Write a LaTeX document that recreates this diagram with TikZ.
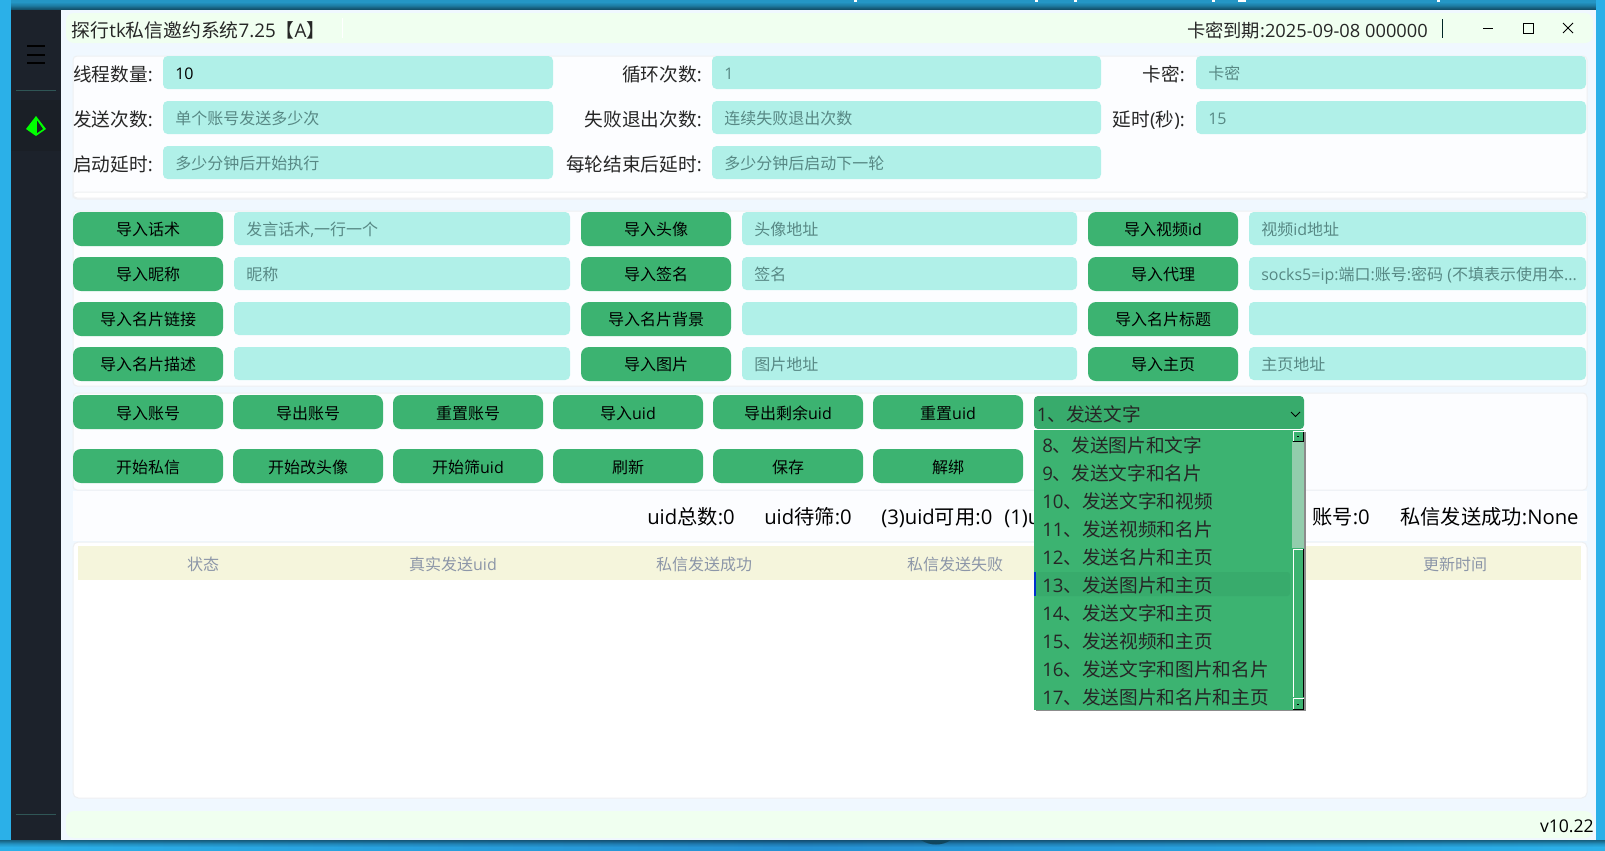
\documentclass[tikz,border=0pt]{standalone}
\usepackage{fontspec}
\usetikzlibrary{patterns}
\setmainfont{Open Sans}
\newfontfamily\cjkf{Noto Sans CJK SC}
\newXeTeXintercharclass\cjkclass
\newcount\chloop
\chloop="3000 \loop\ifnum\chloop<"3040 \XeTeXcharclass\chloop=\cjkclass \advance\chloop 1 \repeat
\chloop="4E00 \loop\ifnum\chloop<"A000 \XeTeXcharclass\chloop=\cjkclass \advance\chloop 1 \repeat
\XeTeXinterchartokenstate=1
\XeTeXinterchartoks 0 \cjkclass={\begingroup\cjkf}
\XeTeXinterchartoks 4095 \cjkclass={\begingroup\cjkf}
\XeTeXinterchartoks \cjkclass 0={\endgroup}
\XeTeXinterchartoks \cjkclass 4095={\endgroup}
\definecolor{btnc}{HTML}{3CB371}
\definecolor{btnd}{HTML}{38AB6C}
\definecolor{fieldc}{HTML}{B0F0E8}
\definecolor{phc}{HTML}{578884}
\definecolor{sidec}{HTML}{1C222B}
\definecolor{activec}{HTML}{1A1F26}
\definecolor{panelc}{HTML}{FCFDFF}
\definecolor{linec}{HTML}{EEF0F2}
\definecolor{basec}{HTML}{F0F8FF}
\definecolor{barc}{HTML}{F0FFF0}
\definecolor{deskc}{HTML}{2BB0E8}
\definecolor{deskm}{HTML}{2590D2}
\definecolor{hdrc}{HTML}{F5F5DC}
\definecolor{hdrt}{HTML}{8C96A8}
\definecolor{divc}{HTML}{2F5656}
\tikzset{
  x=0.75pt,y=-0.75pt,
  small/.style={font=\fontsize{12}{14}\selectfont,inner sep=0pt,text height=10.5pt,text depth=1.5pt},
  large/.style={font=\fontsize{14}{16}\selectfont,inner sep=0pt,text height=12.3pt,text depth=1.7pt},
  btnbox/.style={fill=btnc,rounded corners=6pt},
  fieldbox/.style={fill=fieldc,rounded corners=3.5pt},
  panelbox/.style={fill=panelc,draw=linec,line width=.75pt,rounded corners=3pt},
  btntext/.style={small,text=black},
  phtext/.style={small,text=phc,anchor=west,yshift=-.75pt},
  labtext/.style={large,text=black!85,anchor=east,yshift=-.75pt},
  stattext/.style={font=\fontsize{15.2}{17}\selectfont,inner sep=0pt,text height=13.2pt,text depth=1.8pt,text=black,anchor=west},
  itemtext/.style={large,text=black!85,anchor=west},
  hdrtext/.style={small,text=hdrt},
}
\def\tshift{0}
% button: name x1 x2 y1 y2 text
\newcommand{\btn}[6]{%
  \path[btnbox] (#2,#4) rectangle (#3,#5);
  \pgfmathsetmacro\cx{(#2+#3)/2}\pgfmathsetmacro\cy{(#4+#5)/2+\tshift}
  \node[btntext] (#1) at (\cx,\cy) {#6};}
% field: name x1 x2 y1 y2 text
\newcommand{\fld}[6]{%
  \path[fieldbox] (#2,#4) rectangle (#3,#5);
  \pgfmathsetmacro\cy{(#4+#5)/2}
  \node[phtext] (#1) at (#2+12,\cy) {#6};}
\begin{document}
\begin{tikzpicture}
\useasboundingbox (0,0) rectangle (1605,850);
% desktop
\fill[deskc] (0,0) rectangle (1605,850);
\shade[left color=deskc,right color=deskm] (0,840) rectangle (800,850);
\shade[left color=deskm,right color=deskc] (800,840) rectangle (1605,850);
\foreach \s/\o in {0/.45,1/.38,2/.3,3/.22,4/.15,5/.1,6/.05}
  \fill[black,opacity=\o] (0,840+\s) rectangle (1605,841+\s);
\fill[deskc!85!black] (11,0) rectangle (1596,10);
\foreach \s/\o in {9/.45,8/.38,7/.3,6/.22,5/.15,4/.1,3/.05}
  \fill[black,opacity=\o] (11,\s) rectangle (1596,\s+1);
\fill[deskc!40!black] (921,840) .. controls (930,846) and (942,846) .. (951,840) -- cycle;
\foreach \bx/\bw in {854/3,1035/3,1074/3,1212/3,1238/8,1437/3}
  \fill[white] (\bx,0) rectangle (\bx+\bw,2);
% window
\fill[basec] (11,10) rectangle (1596,840);
% title bar and status bar
\path[fill=barc,rounded corners=6pt] (66,13) rectangle (1593,43);
\path[fill=barc,rounded corners=6pt] (66,811) rectangle (1593,838);
\draw[white,line width=.5pt] (342,18) -- (342,38);
% sidebar
\fill[sidec] (11,10) rectangle (61,840);
\fill[activec] (11,100) rectangle (61,151);
\foreach \ly in {46,55,63} \draw[black,line width=1.2pt] (27,\ly) -- (45,\ly);
\draw[divc,line width=.7pt] (16,90) -- (56,90);
\draw[divc,line width=.7pt] (16,814) -- (56,814);
\path[fill=green] (36,116) -- (46,129) -- (36,136) -- (26,129) -- cycle;
\path[fill=activec] (37,120.5) -- (43,129) -- (37,133) -- cycle;
% title texts
\node[large,anchor=west,text=black!85,font=\fontsize{14.1}{16}\selectfont] (title) at (71.5,30) {探行tk私信邀约系统7.25【A】};
\node[large,anchor=east,text=black!85,font=\fontsize{13.7}{16}\selectfont] (expiry) at (1428,30) {卡密到期:2025-09-08 000000};
\draw[black!70!teal,line width=.6pt] (1442,19) -- (1442,38);
\draw[black,line width=.7pt] (1483,28) -- (1493,28);
\draw[black,line width=.7pt] (1523,23) rectangle (1533,33);
\draw[black,line width=.7pt] (1563,23) -- (1573,33) (1573,23) -- (1563,33);
\node[inner sep=0pt,anchor=east,font=\fontsize{13.2}{16}\selectfont,text=black] (ver) at (1594,826) {v10.22};
% panels
\path[panelbox] (73,56) rectangle (1587,199);
\draw[linec,line width=.75pt,rounded corners=3pt,fill=white] (73,192) rectangle (1587,198);
\path[panelbox] (73,211) rectangle (1587,386);
\path[panelbox] (73,393) rectangle (1587,490);
\path[fill=panelc] (73,491) rectangle (1587,541);
\path[fill=white,draw=linec,line width=.75pt,rounded corners=4pt] (73,542) rectangle (1587,798);
% row 1 labels and fields
\node[labtext] (l11) at (153,73) {线程数量:};
\node[labtext] (l12) at (702,73) {循环次数:};
\node[labtext] (l13) at (1185,73) {卡密:};
\node[labtext] (l21) at (153,118) {发送次数:};
\node[labtext] (l22) at (702,118) {失败退出次数:};
\node[labtext] (l23) at (1185,118) {延时(秒):};
\node[labtext] (l31) at (153,163) {启动延时:};
\node[labtext] (l32) at (702,163) {每轮结束后延时:};
\fld{f11}{163}{553}{56}{89}{\textcolor{black}{10}}
\fld{f12}{712}{1101}{56}{89}{1}
\fld{f13}{1196}{1586}{56}{89}{卡密}
\fld{f21}{163}{553}{101}{134}{单个账号发送多少次}
\fld{f22}{712}{1101}{101}{134}{连续失败退出次数}
\fld{f23}{1196}{1586}{101}{134}{15}
\fld{f31}{163}{553}{146}{179}{多少分钟后开始执行}
\fld{f32}{712}{1101}{146}{179}{多少分钟后启动下一轮}
% import grid
\btn{b11}{73}{223}{212}{246}{导入话术}
\fld{g11}{234}{570}{212}{245}{发言话术,一行一个}
\btn{b12}{581}{731}{212}{246}{导入头像}
\fld{g12}{742}{1077}{212}{245}{头像地址}
\btn{b13}{1088}{1238}{212}{246}{导入视频id}
\fld{g13}{1249}{1586}{212}{245}{视频id地址}
\btn{b21}{73}{223}{257}{291}{导入昵称}
\fld{g21}{234}{570}{257}{290}{昵称}
\btn{b22}{581}{731}{257}{291}{导入签名}
\fld{g22}{742}{1077}{257}{290}{签名}
\btn{b23}{1088}{1238}{257}{291}{导入代理}
\fld{g23}{1249}{1586}{257}{290}{socks5=ip:端口:账号:密码 (不填表示使用本...}
\btn{b31}{73}{223}{302}{336}{导入名片链接}
\fld{g31}{234}{570}{302}{335}{}
\btn{b32}{581}{731}{302}{336}{导入名片背景}
\fld{g32}{742}{1077}{302}{335}{}
\btn{b33}{1088}{1238}{302}{336}{导入名片标题}
\fld{g33}{1249}{1586}{302}{335}{}
\btn{b41}{73}{223}{347}{381}{导入名片描述}
\fld{g41}{234}{570}{347}{380}{}
\btn{b42}{581}{731}{347}{381}{导入图片}
\fld{g42}{742}{1077}{347}{380}{图片地址}
\btn{b43}{1088}{1238}{347}{381}{导入主页}
\fld{g43}{1249}{1586}{347}{380}{主页地址}
% action rows
\def\tshift{1.5}
\btn{a1}{73}{223}{395}{429}{导入账号}
\btn{a2}{233}{383}{395}{429}{导出账号}
\btn{a3}{393}{543}{395}{429}{重置账号}
\btn{a4}{553}{703}{395}{429}{导入uid}
\btn{a5}{713}{863}{395}{429}{导出剩余uid}
\btn{a6}{873}{1023}{395}{429}{重置uid}
\def\tshift{1}
\btn{c1}{73}{223}{449}{483}{开始私信}
\btn{c2}{233}{383}{449}{483}{开始改头像}
\btn{c3}{393}{543}{449}{483}{开始筛uid}
\btn{c4}{553}{703}{449}{483}{刷新}
\btn{c5}{713}{863}{449}{483}{保存}
\btn{c6}{873}{1023}{449}{483}{解绑}
% stats
\node[stattext] (s1) at (647,517) {uid总数:0};
\node[stattext] (s2) at (764,517) {uid待筛:0};
\node[stattext] (s3) at (881,517) {(3)uid可用:0};
\node[stattext] (s4) at (1004,517) {(1)u};
\node[stattext] (s5) at (1312,517) {账号:0};
\node[stattext] (s6) at (1400,517) {私信发送成功:None};
% table header
\fill[hdrc] (78,546) rectangle (1581,580);
\node[hdrtext] (h1) at (203,564) {状态};
\node[hdrtext] (h2) at (453,564) {真实发送uid};
\node[hdrtext] (h3) at (704,564) {私信发送成功};
\node[hdrtext] (h4) at (955,564) {私信发送失败};
\node[hdrtext] (h5) at (1455,564) {更新时间};
% combo
\path[fill=btnd,rounded corners=3pt] (1034,396) rectangle (1304,429);
\node[itemtext] (combo) at (1036.5,414) {1、发送文字};
\draw[black,line width=.7pt] (1291,412) -- (1295.5,416.5) -- (1300,412);
% popup
\fill[black!45] (1036,432) rectangle (1305.5,711);
\fill[btnc] (1034,430) rectangle (1304,710);
\draw[white,line width=.7pt] (1034,429.5) -- (1304,429.5);
\path[fill=btnd,rounded corners=2pt] (1036,572) rectangle (1290,596);
\fill[blue!60!teal] (1034,572) rectangle (1036,596);
\node[itemtext] (i8) at (1042,445) {8、发送图片和文字};
\node[itemtext] (i9) at (1042,473) {9、发送文字和名片};
\node[itemtext] (i10) at (1042,501) {10、发送文字和视频};
\node[itemtext] (i11) at (1042,529) {11、发送视频和名片};
\node[itemtext] (i12) at (1042,557) {12、发送名片和主页};
\node[itemtext] (i13) at (1042,585) {13、发送图片和主页};
\node[itemtext] (i14) at (1042,613) {14、发送文字和主页};
\node[itemtext] (i15) at (1042,641) {15、发送视频和主页};
\node[itemtext] (i16) at (1042,669) {16、发送文字和图片和名片};
\node[itemtext] (i17) at (1042,697) {17、发送图片和名片和主页};
% scrollbar
\path[fill=btnc!55!white!90!gray] (1292,442) rectangle (1304,548);
\draw[white,line width=.7pt] (1293,549) -- (1293,697);
\draw[white,line width=.7pt] (1293,549.5) -- (1303,549.5);
\draw[black,line width=.9pt] (1303.5,549) -- (1303.5,697);
\path[fill=btnc,draw=black,line width=.7pt] (1293,431) rectangle (1303.5,441);
\path[fill=btnc,draw=black,line width=.7pt] (1293,698) rectangle (1303.5,709);
\draw[white,line width=.6pt] (1293,431) -- (1293,441) (1293,431) -- (1303.5,431);
\draw[white,line width=.6pt] (1293,698) -- (1293,709) (1293,698) -- (1303.5,698);
\fill[black] (1297,436) rectangle (1299,437);
\fill[black] (1297,704) rectangle (1299,705);
\end{tikzpicture}
\end{document}
